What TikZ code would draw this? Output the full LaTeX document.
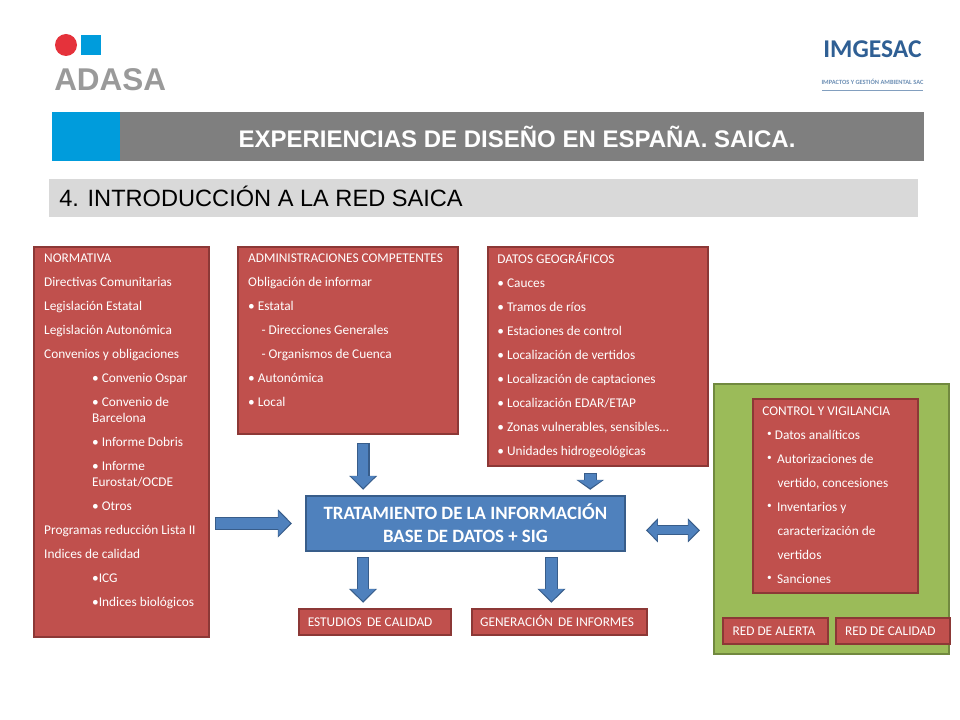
\documentclass[tikz,border=0pt]{standalone}
\usepackage{fontspec}
\setmainfont{Carlito}
\newfontfamily\arialfont{Liberation Sans}
\usepackage{tikz}
\usetikzlibrary{positioning,arrows.meta}

\definecolor{rojo}{HTML}{C0504D}
\definecolor{rojoborde}{HTML}{8C3836}
\definecolor{verde}{HTML}{9BBB59}
\definecolor{verdeborde}{HTML}{71893F}
\definecolor{azul}{HTML}{4F81BD}
\definecolor{azulborde}{HTML}{385D8A}
\definecolor{celeste}{HTML}{009CDC}
\definecolor{gris}{HTML}{7F7F7F}
\definecolor{grisclaro}{HTML}{D9D9D9}
\definecolor{grislogo}{HTML}{9A9A9A}
\definecolor{rojologo}{HTML}{E5323B}
\definecolor{azullogo}{HTML}{2F5F94}

\def\px{0.75pt}
\newcommand{\bul}{\raisebox{2.2pt}{\scalebox{.7}{\textbullet}}}

\tikzset{
  base/.style={rectangle,anchor=north west,inner sep=0pt,outer sep=0pt},
  caja/.style={base,draw=rojoborde,fill=rojo,line width=1.4pt,outer sep=.7pt},
  lineas/.style={anchor=north west,inner sep=0pt,text=white,align=left,
    font=\fontsize{10pt}{18pt}\selectfont},
  rotulo/.style={text=white,inner sep=0pt,text height=7pt,text depth=2pt,yshift=-1pt,
    font=\fontsize{10pt}{11pt}\selectfont},
  flecha/.style n args={3}{draw=azulborde,line width=9.6pt,
    -{Triangle[length=#3,width=20.5pt]},shorten <=#1,shorten >=#2,
    postaction={draw=azul,line width=8pt,
      -{Triangle[length=#3-1.6pt,width=17.6pt]},
      shorten <=#1+0.8pt,shorten >=#2+1.3pt}},
  flechadoble/.style n args={2}{draw=azulborde,line width=7.6pt,
    {Triangle[length=9pt,width=17.5pt]}-{Triangle[length=9pt,width=17.5pt]},
    shorten <=#1,shorten >=#2,
    postaction={draw=azul,line width=6pt,
      {Triangle[length=7.4pt,width=14.6pt]}-{Triangle[length=7.4pt,width=14.6pt]},
      shorten <=#1+1.3pt,shorten >=#2+1.3pt}}
}

\begin{document}
\begin{tikzpicture}[x=\px,y=-\px]
\useasboundingbox (0,0) rectangle (960,720);

% logos
\fill[rojologo] (66,45) circle (11);
\node[base,fill=celeste,minimum width=20*\px,minimum height=20*\px] (cuadro) at (81,35.5) {};
\node[anchor=west,inner sep=0pt,text=grislogo,font=\arialfont\bfseries\fontsize{23.6pt}{24pt}\selectfont] (adasa) at (54,80) {ADASA};
\node[text=azullogo,inner sep=0pt,font=\bfseries\fontsize{19.2pt}{20pt}\selectfont] (imgesac) at (872.5,49) {IMGESAC};
\node[text=azullogo!70,inner sep=0pt,font=\bfseries\fontsize{4.8pt}{5pt}\selectfont] (impactos) at (872.5,82) {IMPACTOS Y GESTIÓN AMBIENTAL SAC};
\draw[azullogo!60,line width=.9pt] (822,90.5) -- (923,90.5);

% cabecera
\node[base,fill=celeste,minimum width=68*\px,minimum height=49*\px] (cuadroazul) at (52,112) {};
\node[base,fill=gris,minimum width=804*\px,minimum height=49*\px] (banda) at (120,112) {};
\node[text=white,inner sep=0pt,font=\arialfont\bfseries\fontsize{18pt}{20pt}\selectfont] (titulo) at (517,137) {EXPERIENCIAS DE DISEÑO EN ESPAÑA. SAICA.};
\node[base,fill=grisclaro,minimum width=869*\px,minimum height=38*\px] (subbanda) at (49,179) {};
\node[anchor=west,inner sep=0pt,font=\arialfont\fontsize{17.7pt}{20pt}\selectfont] (subtitulo) at (59,196) {4. INTRODUCCIÓN A LA RED SAICA};

% cajas rojas
\node[caja,minimum width=175*\px,minimum height=390*\px] (normativa) at (33,246) {};
\node[lineas,below right=5.9pt and 8.2pt of normativa.north west] (normativatxt) {NORMATIVA\\
Directivas Comunitarias\\
Legislación Estatal\\
Legislación Autonómica\\
Convenios y obligaciones\\
\hspace*{36pt}\textbullet{} Convenio Ospar\\
\hspace*{36pt}\textbullet{} Convenio de\\[-6pt]
\hspace*{36pt}Barcelona\\
\hspace*{36pt}\textbullet{} Informe Dobris\\
\hspace*{36pt}\textbullet{} Informe\\[-6pt]
\hspace*{36pt}Eurostat/OCDE\\
\hspace*{36pt}\textbullet{} Otros\\
Programas reducción Lista II\\
Indices de calidad\\
\hspace*{36pt}\textbullet ICG\\
\hspace*{36pt}\textbullet Indices biológicos};

\node[caja,minimum width=220*\px,minimum height=187*\px] (admin) at (237,246) {};
\node[lineas,below right=5.9pt and 8.2pt of admin.north west] (admintxt) {ADMINISTRACIONES  COMPETENTES\\
Obligación de informar\\
\textbullet{} Estatal\\
\hspace*{10pt}- Direcciones Generales\\
\hspace*{10pt}- Organismos de Cuenca\\
\textbullet{} Autonómica\\
\textbullet{} Local};

\node[caja,minimum width=220*\px,minimum height=219*\px] (datos) at (487,246) {};
\node[lineas,below right=4.6pt and 7.6pt of datos.north west] (datostxt) {DATOS GEOGRÁFICOS\\
\textbullet{} Cauces\\
\textbullet{} Tramos de ríos\\
\textbullet{} Estaciones de control\\
\textbullet{} Localización de vertidos\\
\textbullet{} Localización de captaciones\\
\textbullet{} Localización EDAR/ETAP\\
\textbullet{} Zonas vulnerables, sensibles\dots\\
\textbullet{} Unidades hidrogeológicas};

% tratamiento y salidas
\node[base,draw=azulborde,fill=azul,line width=1.4pt,outer sep=.7pt,minimum width=319*\px,minimum height=55*\px,
  text=white,align=center,font=\bfseries\fontsize{14.1pt}{17.2pt}\selectfont] (trat) at (305,495)
  {TRATAMIENTO DE LA INFORMACIÓN\\BASE DE DATOS + SIG};
\node[caja,minimum width=152*\px,minimum height=26*\px] (estudios) at (298,608) {};
\node[rotulo,xshift=-3.6pt] (estudiostxt) at (estudios.center) {ESTUDIOS\, DE CALIDAD};
\node[caja,minimum width=175*\px,minimum height=26*\px] (informes) at (471,608) {};
\node[rotulo,xshift=-1.8pt] (informestxt) at (informes.center) {GENERACIÓN\, DE INFORMES};

% bloque verde
\node[base,draw=verdeborde,fill=verde,line width=1.4pt,outer sep=.7pt,minimum width=235*\px,minimum height=270*\px] (bloque) at (713,383) {};
\node[caja,minimum width=165*\px,minimum height=194*\px] (control) at (752,398) {};
\node[lineas,below right=6.4pt and 7.6pt of control.north west] (controltxt) {CONTROL Y VIGILANCIA\\
\hspace*{3.6pt}\bul{} Datos analíticos\\
\hspace*{3.6pt}\bul{}\, Autorizaciones de\\
\hspace*{11.4pt}vertido, concesiones\\
\hspace*{3.6pt}\bul{}\, Inventarios y\\
\hspace*{11.4pt}caracterización de\\
\hspace*{11.4pt}vertidos\\
\hspace*{3.6pt}\bul{}\, Sanciones};
\node[caja,minimum width=105*\px,minimum height=26*\px] (alerta) at (722,617) {};
\node[rotulo,xshift=-1.1pt] (alertatxt) at (alerta.center) {RED DE ALERTA};
\node[caja,minimum width=114*\px,minimum height=26*\px] (calidad) at (835,617) {};
\node[rotulo,xshift=-1.9pt] (calidadtxt) at (calidad.center) {RED DE CALIDAD};

% flechas
\draw[flecha={3.8pt}{9.8pt}{10.5pt}] (normativa.east |- trat.west) -- (trat.west);
\draw[flecha={6pt}{3.9pt}{10.5pt}] ([xshift=11.4pt]admin.south) -- ([xshift=11.4pt]admin.south |- trat.north);
\draw[flecha={4.5pt}{3.9pt}{7.5pt}] ([xshift=-5.8pt]datos.south) -- ([xshift=-5.8pt]datos.south |- trat.north);
\draw[flecha={3.9pt}{3.9pt}{10.5pt}] ([xshift=-8.9pt]estudios.north |- trat.south) -- ([xshift=-8.9pt]estudios.north);
\draw[flecha={3.9pt}{3.9pt}{10.5pt}] ([xshift=-6pt]informes.north |- trat.south) -- ([xshift=-6pt]informes.north);
\draw[flechadoble={15pt}{9.8pt}] ([yshift=-5.2pt]trat.east) -- ([yshift=-5.2pt]trat.east -| bloque.west);
\end{tikzpicture}
\end{document}
